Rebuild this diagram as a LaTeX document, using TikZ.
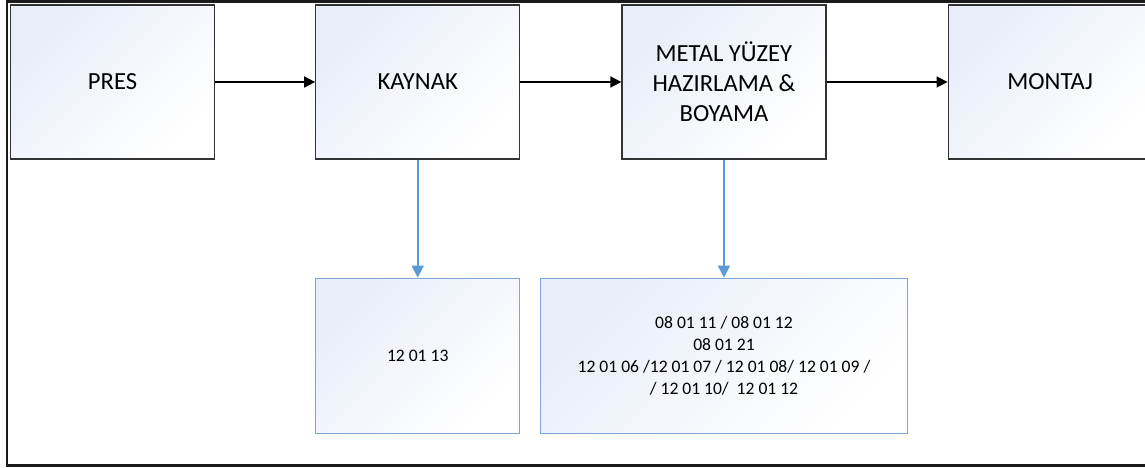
\documentclass[tikz,border=0pt]{standalone}
\usepackage{fontspec}
\setmainfont{Carlito}
\usetikzlibrary{positioning, arrows.meta}
\definecolor{boxtint}{HTML}{E8EDF8}
\definecolor{boxstroke}{HTML}{333333}
\definecolor{wastestroke}{HTML}{7EA6D6}
\definecolor{wasteline}{HTML}{5B9BD5}
\definecolor{framestroke}{HTML}{1A1A1A}

\begin{document}
\begin{tikzpicture}[
  font=\fontsize{14}{17}\selectfont,
  procbox/.style={rectangle, draw=boxstroke, line width=0.7pt,
                  top color=boxtint, bottom color=white, shading angle=45,
                  minimum width=4.08cm, minimum height=3.08cm,
                  align=center, inner sep=2pt},
  wastebox/.style={rectangle, draw=wastestroke, line width=0.7pt,
                   top color=boxtint, bottom color=white, shading angle=45,
                   minimum height=3.1cm, align=center, inner sep=2pt,
                   font=\fontsize{10}{12.5}\selectfont},
  flow/.style={-{Triangle[length=2.2mm, width=2.2mm]}, line width=1pt, draw=black},
  waste/.style={-{Triangle[length=2.4mm, width=2.4mm]}, line width=1pt, draw=wasteline}
]
\useasboundingbox (0,0) rectangle (22.9,-9.36);

% outer frame (right side runs off the page)
\draw[framestroke, line width=1.4pt] (23.3,-0.03) -| (0.14,-9.31) -- (23.3,-9.31);

% process chain (left to right)
\node[procbox] (pres) at (2.25,-1.64) {PRES};
\node[procbox, right=2.0cm of pres]    (kaynak) {KAYNAK};
\node[procbox, right=2.02cm of kaynak] (boya)   {METAL YÜZEY\\HAZIRLAMA \&\\BOYAMA};
\node[procbox, right=2.42cm of boya]   (montaj) {MONTAJ};

% waste codes under the steps
\node[wastebox, minimum width=4.08cm, below=2.36cm of kaynak] (kod1) {12 01 13};
\node[wastebox, minimum width=7.34cm, below=2.36cm of boya]   (kod2)
  {08 01 11 / 08 01 12\\08 01 21\\12 01 06 /12 01 07 / 12 01 08/ 12 01 09 /\\/ 12 01 10/ \ 12 01 12};

\draw[flow] (pres)   -- (kaynak);
\draw[flow] (kaynak) -- (boya);
\draw[flow] (boya)   -- (montaj);

\draw[waste] (kaynak) -- (kod1);
\draw[waste] (boya)   -- (kod2);

\end{tikzpicture}
\end{document}
